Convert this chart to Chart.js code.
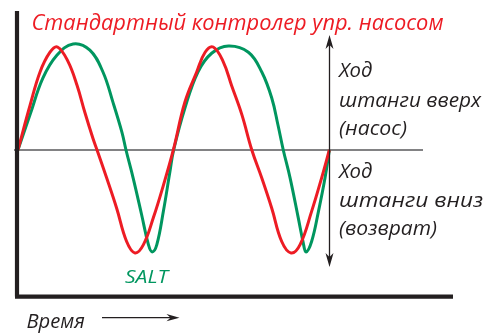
<!DOCTYPE html>
<html>
<head>
<meta charset="utf-8">
<script src="https://cdn.jsdelivr.net/npm/chart.js@4/dist/chart.umd.min.js"></script>
<style>
  html, body { margin: 0; padding: 0; background: #fff; }
  canvas { display: block; }
</style>
</head>
<body>
<canvas id="grafico" width="485" height="333"></canvas>
<script>
// Время: 0..100 = два хода насоса, Ход штанги: +100 верх / -100 низ
const redTime   = [0.3, 4.2, 7.4, 10.6, 13.0, 16.4, 19.3, 21.8, 24.4, 25.7, 28.8, 32.0, 35.2, 37.9, 40.6, 43.8, 47.0, 50.2,
                   53.9, 57.7, 60.4, 63.0, 66.2, 68.9, 72.2, 75.4, 78.6, 81.8, 85.0, 88.0, 90.9, 94.6, 97.8, 100.3];
const redStroke = [0, 43, 75, 94, 99, 85, 62, 36, 11, 0, -27, -56, -88, -99, -91, -65, -34, 0,
                   46, 75, 94, 99, 85, 62, 34, 0, -27, -56, -88, -99, -91, -59, -27, 0];

const greenTime   = [0.3, 4.2, 8.3, 12.8, 18.0, 23.4, 27.6, 30.8, 33.7, 35.0, 37.3, 40.0, 42.2, 43.4, 44.9, 47.0, 49.1, 50.3,
                     53.9, 58.1, 62.5, 67.9, 74.3, 78.6, 81.8, 83.8, 85.5, 87.7, 90.3, 91.9, 92.8, 94.6, 96.8, 98.9, 100.3];
const greenStroke = [0, 34, 69, 91, 102, 96, 75, 46, 17, 0, -27, -62, -91, -98, -91, -59, -21, 0,
                     40, 75, 93, 100, 94, 75, 50, 24, 0, -27, -65, -89, -98, -88, -59, -27, 0];

const tituloTexto = "Стандартный контролер упр. насосом";
const textoArriba = ["Ход", "штанги вверх", "(насос)"];
const textoAbajo  = ["Ход", "штанги вниз", "(возврат)"];
const textoSalt   = "SALT";
const textoTiempo = "Время";

const ROJO  = "#ed1c24";
const VERDE = "#00965f";
const NEGRO = "#231f20";
const FUENTE = '"Open Sans", "Noto Sans", sans-serif';

// texto estirado horizontalmente a un ancho dado
function textoAjustado(ctx, txt, x, y, ancho) {
  const w = ctx.measureText(txt).width;
  ctx.save();
  ctx.translate(x, y);
  ctx.scale(ancho / w, 1);
  ctx.fillText(txt, 0, 0);
  ctx.restore();
}

function punta(ctx, x, y, dx, dy, largo, medio, muesca) {
  const px = -dy, py = dx;
  ctx.beginPath();
  ctx.moveTo(x, y);
  ctx.lineTo(x - dx * largo + px * medio, y - dy * largo + py * medio);
  ctx.lineTo(x - dx * (largo - muesca), y - dy * (largo - muesca));
  ctx.lineTo(x - dx * largo - px * medio, y - dy * largo - py * medio);
  ctx.closePath();
  ctx.fill();
}

const decoracion = {
  id: "decoracion",
  beforeDatasetsDraw(chart) {
    const { ctx, scales: { y } } = chart;
    const y0 = y.getPixelForValue(0);
    ctx.save();
    ctx.strokeStyle = "#58595b";
    ctx.lineWidth = 1.6;
    ctx.beginPath();
    ctx.moveTo(14, y0);
    ctx.lineTo(423, y0);
    ctx.stroke();
    ctx.restore();
  },
  afterDatasetsDraw(chart) {
    const { ctx } = chart;
    ctx.save();

    // ejes
    ctx.strokeStyle = NEGRO;
    ctx.lineWidth = 4.2;
    ctx.beginPath();
    ctx.moveTo(17, 11);
    ctx.lineTo(17, 296.6);
    ctx.moveTo(15, 296.6);
    ctx.lineTo(453, 296.6);
    ctx.stroke();

    // flecha vertical doble
    ctx.lineWidth = 1.3;
    ctx.fillStyle = NEGRO;
    ctx.beginPath();
    ctx.moveTo(329.5, 45);
    ctx.lineTo(329.5, 257);
    ctx.stroke();
    punta(ctx, 329.5, 35, 0, -1, 14, 4, 4);
    punta(ctx, 329.5, 267, 0, 1, 14, 4, 4);

    // flecha del tiempo
    ctx.beginPath();
    ctx.moveTo(102, 317.7);
    ctx.lineTo(172, 317.7);
    ctx.stroke();
    punta(ctx, 179.5, 317.7, 1, 0, 13, 3.6, 4);

    // titulo
    ctx.fillStyle = ROJO;
    ctx.font = `italic 21px ${FUENTE}`;
    ctx.textBaseline = "alphabetic";
    textoAjustado(ctx, tituloTexto, 31.5, 30, 412);

    // textos derecha
    ctx.fillStyle = NEGRO;
    ctx.font = `italic 20px ${FUENTE}`;
    const anchosArriba = [33.5, 142, 68];
    const anchosAbajo  = [33.5, 144, 98];
    const lineasArriba = [77.3, 106.5, 135];
    const lineasAbajo  = [178.3, 206.7, 235];
    textoArriba.forEach((t, i) => textoAjustado(ctx, t, 339, lineasArriba[i], anchosArriba[i]));
    textoAbajo.forEach((t, i) => textoAjustado(ctx, t, 339, lineasAbajo[i], anchosAbajo[i]));

    // SALT
    ctx.fillStyle = VERDE;
    ctx.font = `italic 19px ${FUENTE}`;
    textoAjustado(ctx, textoSalt, 125, 283.3, 43);

    // Время
    ctx.fillStyle = NEGRO;
    ctx.font = `italic 20px ${FUENTE}`;
    textoAjustado(ctx, textoTiempo, 26.5, 328.3, 58.5);

    ctx.restore();
  }
};

new Chart(document.getElementById("grafico"), {
  type: "line",
  data: {
    datasets: [
      {
        label: "Стандартный контролер",
        data: redTime.map((t, i) => ({ x: t, y: redStroke[i] })),
        borderColor: ROJO,
        borderWidth: 3,
        pointRadius: 0,
        tension: 0.4,
        fill: false,
      },
      {
        label: "SALT",
        data: greenTime.map((t, i) => ({ x: t, y: greenStroke[i] })),
        borderColor: VERDE,
        borderWidth: 3,
        pointRadius: 0,
        tension: 0.4,
        fill: false,
      },
    ],
  },
  options: {
    responsive: false,
    animation: false,
    devicePixelRatio: 1,
    layout: { padding: { left: 17, right: 32, top: 10, bottom: 37 } },
    scales: {
      x: { type: "linear", min: 0, max: 140, display: false },
      y: { min: -140.4, max: 134.6, display: false },
    },
    plugins: {
      legend: { display: false },
      tooltip: { enabled: false },
    },
  },
  plugins: [decoracion],
});
</script>
</body>
</html>
